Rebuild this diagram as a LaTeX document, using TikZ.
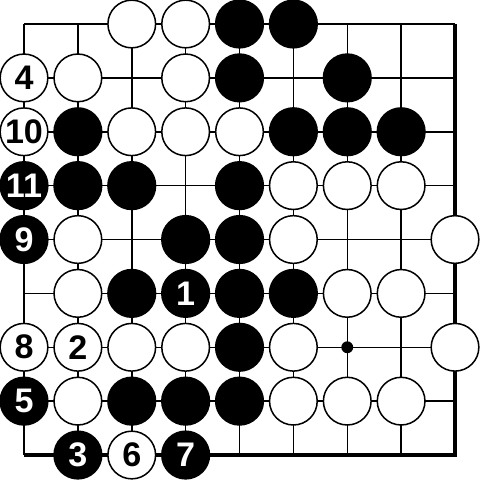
\documentclass[tikz,border=0pt]{standalone}
\usepackage{fontspec}
\setmainfont{Liberation Sans}

\tikzset{
    stone/.style={circle, draw, line width=0.8pt, inner sep=0pt, minimum size=0.885cm,
        font=\fontsize{18}{18}\selectfont\bfseries},
    wst/.style={stone, fill=white, text=black},
    bst/.style={stone, fill=black, text=white},
    gridline/.style={line width=0.8pt},
    edgeline/.style={line width=1.7pt, line join=miter}
}

\begin{document}
\begin{tikzpicture}[x=1cm, y=-1cm]
    \useasboundingbox (-0.4455, -0.4455) rectangle (8.4638, 8.4638);
    % board
    \foreach \i in {0,...,8} {
        \draw[gridline] (\i, 0) -- (\i, 8);
        \draw[gridline] (0, \i) -- (8, \i);
    }
    \draw[edgeline] (8, 0) -- (8, 8) -- (0, 8);
    \fill (6, 6) circle (0.11);
    % row 0
    \node[wst] (c2r0) at (2, 0) {};
    \node[wst] (c3r0) at (3, 0) {};
    \node[bst] (c4r0) at (4, 0) {};
    \node[bst] (c5r0) at (5, 0) {};
    % row 1
    \node[wst] (m4) at (0, 1) {4};
    \node[wst] (c1r1) at (1, 1) {};
    \node[wst] (c3r1) at (3, 1) {};
    \node[bst] (c4r1) at (4, 1) {};
    \node[bst] (c6r1) at (6, 1) {};
    % row 2
    \node[wst] (m10) at (0, 2) {10};
    \node[bst] (c1r2) at (1, 2) {};
    \node[wst] (c2r2) at (2, 2) {};
    \node[wst] (c3r2) at (3, 2) {};
    \node[wst] (c4r2) at (4, 2) {};
    \node[bst] (c5r2) at (5, 2) {};
    \node[bst] (c6r2) at (6, 2) {};
    \node[bst] (c7r2) at (7, 2) {};
    % row 3
    \node[bst] (m11) at (0, 3) {11};
    \node[bst] (c1r3) at (1, 3) {};
    \node[bst] (c2r3) at (2, 3) {};
    \node[bst] (c4r3) at (4, 3) {};
    \node[wst] (c5r3) at (5, 3) {};
    \node[wst] (c6r3) at (6, 3) {};
    \node[wst] (c7r3) at (7, 3) {};
    % row 4
    \node[bst] (m9) at (0, 4) {9};
    \node[wst] (c1r4) at (1, 4) {};
    \node[bst] (c3r4) at (3, 4) {};
    \node[bst] (c4r4) at (4, 4) {};
    \node[wst] (c5r4) at (5, 4) {};
    \node[wst] (c8r4) at (8, 4) {};
    % row 5
    \node[wst] (c1r5) at (1, 5) {};
    \node[bst] (c2r5) at (2, 5) {};
    \node[bst] (m1) at (3, 5) {1};
    \node[bst] (c4r5) at (4, 5) {};
    \node[bst] (c5r5) at (5, 5) {};
    \node[wst] (c6r5) at (6, 5) {};
    \node[wst] (c7r5) at (7, 5) {};
    % row 6
    \node[wst] (m8) at (0, 6) {8};
    \node[wst] (m2) at (1, 6) {2};
    \node[wst] (c2r6) at (2, 6) {};
    \node[wst] (c3r6) at (3, 6) {};
    \node[bst] (c4r6) at (4, 6) {};
    \node[wst] (c5r6) at (5, 6) {};
    \node[wst] (c8r6) at (8, 6) {};
    % row 7
    \node[bst] (m5) at (0, 7) {5};
    \node[wst] (c1r7) at (1, 7) {};
    \node[bst] (c2r7) at (2, 7) {};
    \node[bst] (c3r7) at (3, 7) {};
    \node[bst] (c4r7) at (4, 7) {};
    \node[wst] (c5r7) at (5, 7) {};
    \node[wst] (c6r7) at (6, 7) {};
    \node[wst] (c7r7) at (7, 7) {};
    % row 8
    \node[bst] (m3) at (1, 8) {3};
    \node[wst] (m6) at (2, 8) {6};
    \node[bst] (m7) at (3, 8) {7};
\end{tikzpicture}
\end{document}
